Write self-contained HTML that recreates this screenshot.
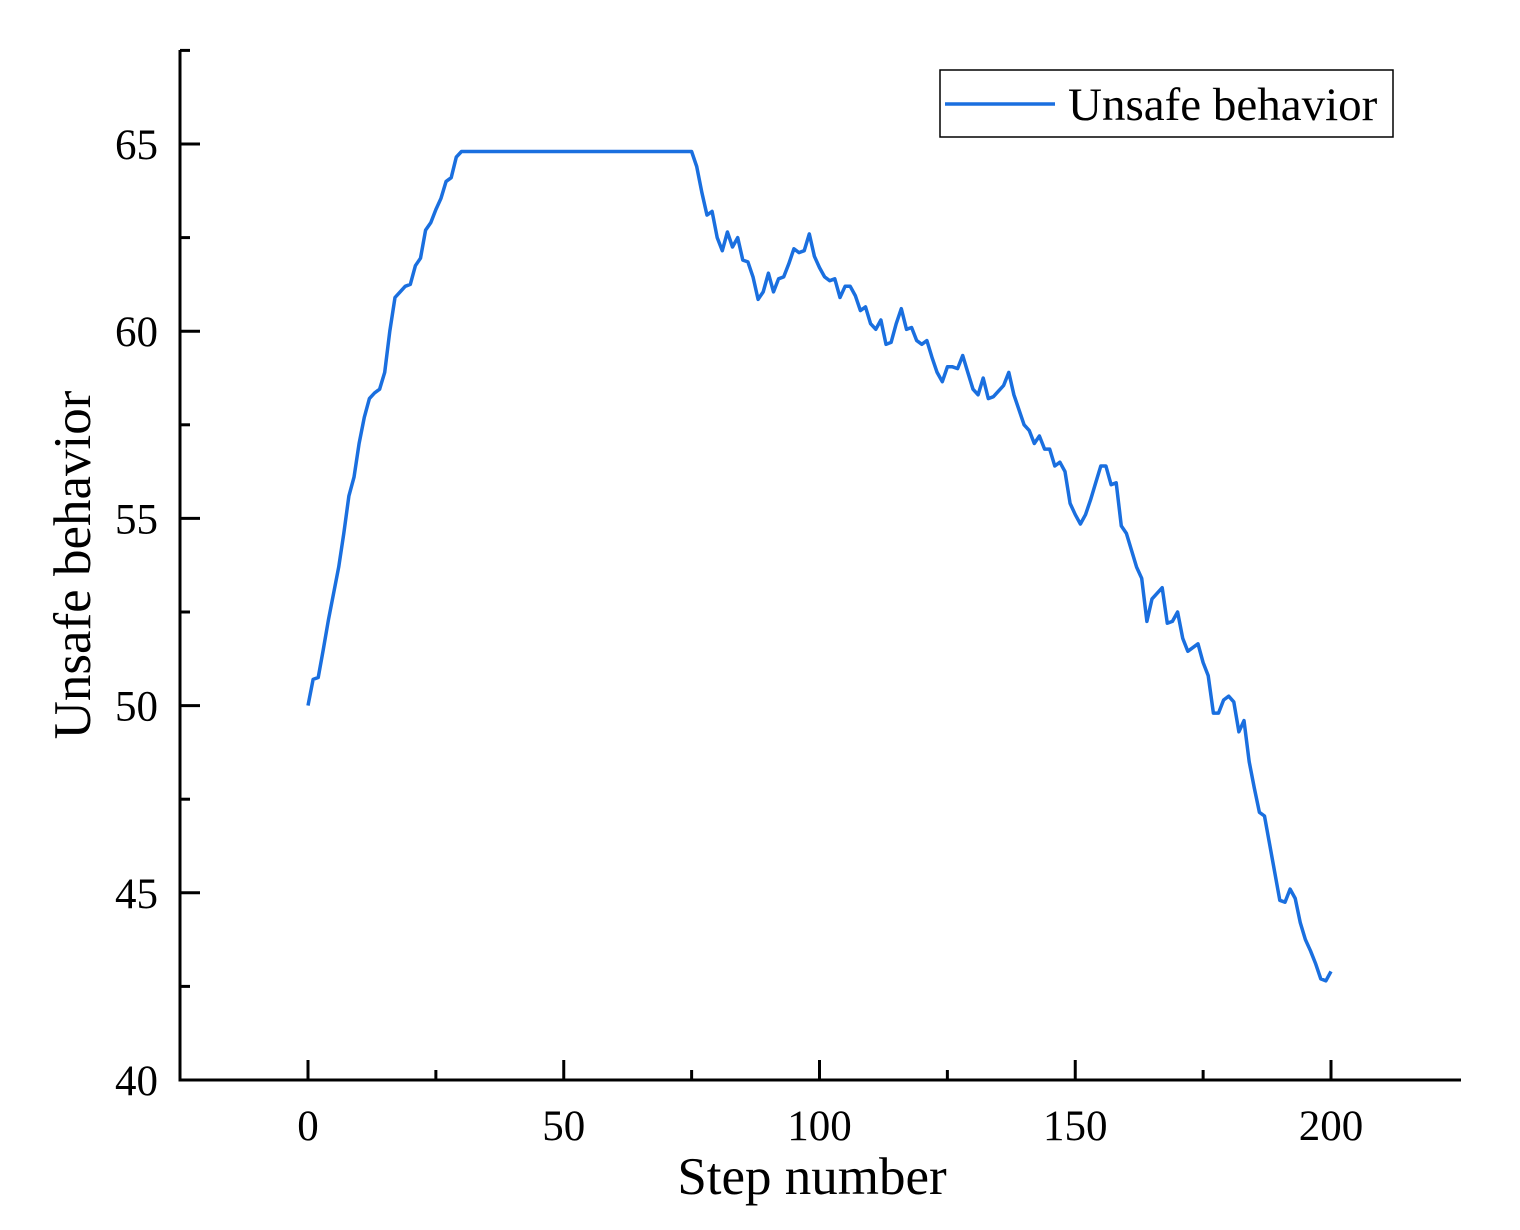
<!DOCTYPE html>
<html><head><meta charset="utf-8"><style>
html,body{margin:0;padding:0;background:#fff;}
svg text{font-family:"Liberation Serif",serif;fill:#000;}
</style></head><body>
<svg id="chart" width="1520" height="1225" viewBox="0 0 1520 1225">
<g id="axes"></g>
<g id="series"></g>
<g>
<rect x="940" y="70" width="453" height="67" fill="#fff" stroke="#000" stroke-width="1.5"/>
<line x1="945" y1="104" x2="1055" y2="104" stroke="#1a6fdf" stroke-width="3.5"/>
<text x="1068" y="120" font-size="47">Unsafe behavior</text>
</g>
<text x="812" y="1194" font-size="53" text-anchor="middle">Step number</text>
<text transform="translate(90,565) rotate(-90)" font-size="53" text-anchor="middle">Unsafe behavior</text>
</svg>
<script>
const xTicks=[0,50,100,150,200];
const xMinor=[25,75,125,175];
const yTicks=[40,45,50,55,60,65];
const yMinor=[42.5,47.5,52.5,57.5,62.5,67.5];
const values=[50,50.7,50.75,51.5,52.3,53,53.7,54.6,55.6,56.1,57.0,57.7,58.2,58.35,58.45,58.9,60.0,60.9,61.05,61.2,61.25,61.75,61.95,62.7,62.9,63.25,63.55,64.0,64.1,64.65,64.8,
64.8,64.8,64.8,64.8,64.8,64.8,64.8,64.8,64.8,64.8,64.8,64.8,64.8,64.8,64.8,64.8,64.8,64.8,64.8,64.8,64.8,64.8,64.8,64.8,64.8,64.8,64.8,64.8,64.8,64.8,64.8,64.8,64.8,64.8,64.8,64.8,64.8,64.8,64.8,64.8,64.8,64.8,64.8,64.8,64.8,
64.4,63.7,63.1,63.2,62.5,62.15,62.65,62.25,62.5,61.9,61.85,61.45,60.85,61.05,61.55,61.05,61.4,61.45,61.8,62.2,62.1,62.15,62.6,62.0,61.7,
61.45,61.35,61.4,60.9,61.2,61.2,60.95,60.55,60.65,60.2,60.05,60.3,59.65,59.7,60.2,60.6,60.05,60.1,59.75,59.65,59.75,59.3,58.9,58.65,59.05,
59.05,59.0,59.35,58.9,58.45,58.3,58.75,58.2,58.25,58.4,58.55,58.9,58.3,57.9,57.5,57.35,57.0,57.2,56.85,56.85,56.4,56.5,56.25,55.4,55.1,
54.85,55.1,55.5,55.95,56.4,56.4,55.9,55.95,54.8,54.6,54.15,53.7,53.4,52.25,52.85,53.0,53.15,52.2,52.25,52.5,51.8,51.45,51.55,51.65,51.15,
50.8,49.8,49.8,50.15,50.25,50.1,49.3,49.6,48.5,47.8,47.15,47.05,46.3,45.55,44.8,44.75,45.1,44.85,44.2,43.75,43.45,43.1,42.7,42.65,42.9];
const steps=values.map((v,i)=>i);
const NS="http://www.w3.org/2000/svg";
const X=v=>308+v*5.115;
const Y=v=>1080-(v-40)*37.44;
function mk(tag,attrs,parent,txt){const e=document.createElementNS(NS,tag);for(const k in attrs)e.setAttribute(k,attrs[k]);if(txt!==undefined)e.textContent=txt;parent.appendChild(e);return e;}
const ax=document.getElementById('axes');
let e=mk('line',{x1:180,y1:50,x2:180,y2:1081.5,stroke:'#000','stroke-width':3},ax);


e=mk('line',{x1:178.5,y1:1080,x2:1461,y2:1080,stroke:'#000','stroke-width':3},ax);


xTicks.forEach(t=>{
 let l=mk('line',{x1:X(t),y1:1080,x2:X(t),y2:1060,stroke:'#000','stroke-width':3},ax);
 
 
 let tx=mk('text',{x:X(t),y:1140,'font-size':43,'text-anchor':'middle'},ax,String(t));
 
 
});
xMinor.forEach(t=>{
 let l=mk('line',{x1:X(t),y1:1080,x2:X(t),y2:1070,stroke:'#000','stroke-width':3},ax);
 
 
});
yTicks.forEach(t=>{
 let l=mk('line',{x1:180,y1:Y(t),x2:200,y2:Y(t),stroke:'#000','stroke-width':3},ax);
 
 
 let tx=mk('text',{x:158,y:Y(t)+15,'font-size':43,'text-anchor':'end'},ax,String(t));
 
 
});
yMinor.forEach(t=>{
 let l=mk('line',{x1:180,y1:Y(t),x2:190,y2:Y(t),stroke:'#000','stroke-width':3},ax);
 
 
});
const d=values.map((v,i)=>(i?'L':'M')+X(steps[i]).toFixed(1)+','+Y(v).toFixed(1)).join(' ');
const p=mk('path',{d:d,fill:'none',stroke:'#1a6fdf','stroke-width':3.5,'stroke-linejoin':'round'},document.getElementById('series'));


</script>
</body></html>
